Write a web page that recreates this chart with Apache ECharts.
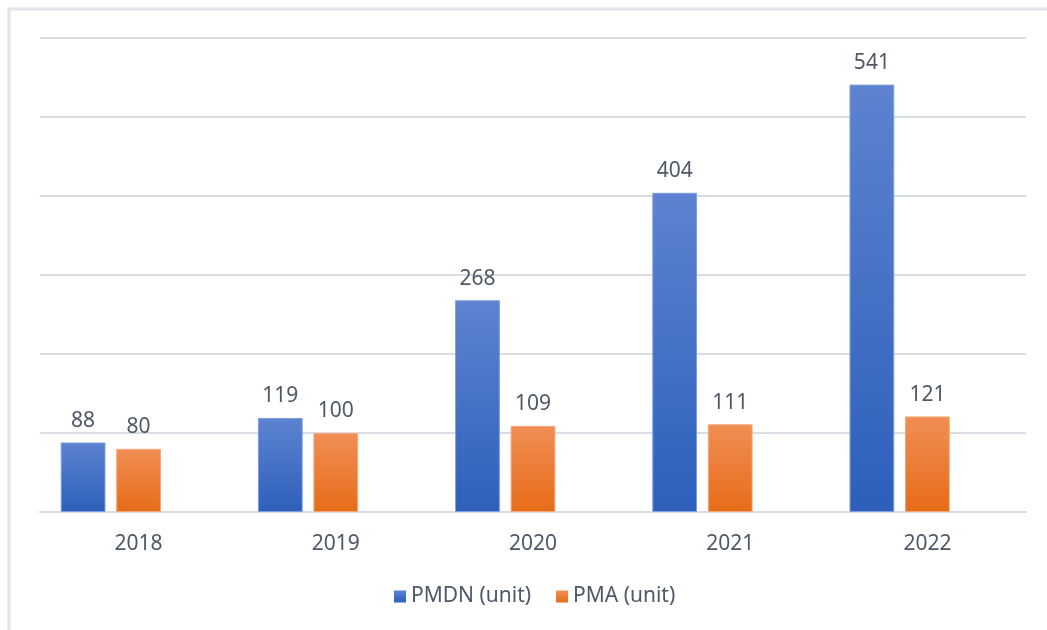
<!DOCTYPE html>
<html>
<head>
<meta charset="utf-8">
<script src="https://cdn.jsdelivr.net/npm/echarts@6/dist/echarts.min.js"></script>
<style>
  html, body { margin: 0; padding: 0; background: #fff; }
  #chart { width: 1047px; height: 630px; }
</style>
</head>
<body>
<div id="chart"></div>
<script>
const years = ["2018", "2019", "2020", "2021", "2022"];
const pmdn = [88, 119, 268, 404, 541];
const pma = [80, 100, 109, 111, 121];
// empty third slot the original chart reserves beside each pair
const blank = [null, null, null, null, null];

const chart = echarts.init(document.getElementById("chart"));

function grad(top, bottom) {
  return new echarts.graphic.LinearGradient(0, 0, 0, 1, [
    { offset: 0, color: top },
    { offset: 1, color: bottom },
  ]);
}

const textColor = "#4f5867";

const label = {
  show: true,
  position: "top",
  distance: 11,
  color: textColor,
  fontSize: 21,
  fontFamily: "Noto Sans",
};

const option = {
  animation: false,
  textStyle: { fontFamily: "Noto Sans" },
  grid: { left: 40, right: 21, top: 38, bottom: 118 },
  graphic: [
    {
      type: "polyline",
      shape: { points: [[9, 630], [9, 9], [1047, 9]] },
      style: { stroke: "#e1e4ea", lineWidth: 3, fill: null },
      silent: true,
    },
  ],
  legend: {
    data: ["PMDN (unit)", "PMA (unit)"],
    bottom: 18,
    left: 389,
    itemWidth: 12,
    itemHeight: 12,
    itemGap: 25,
    icon: "rect",
    itemStyle: { borderWidth: 0 },
    textStyle: { color: textColor, fontSize: 21, fontFamily: "Noto Sans" },
  },
  xAxis: {
    type: "category",
    data: years,
    axisLine: { lineStyle: { color: "#d9dde3", width: 2 } },
    axisTick: { show: false },
    axisLabel: { color: textColor, fontSize: 21, margin: 22 },
  },
  yAxis: {
    type: "value",
    min: 0,
    max: 600,
    interval: 100,
    axisLabel: { show: false },
    axisLine: { show: false },
    axisTick: { show: false },
    splitLine: { lineStyle: { color: "#d9dde3", width: 2 } },
  },
  series: [
    {
      name: "PMDN (unit)",
      type: "bar",
      data: pmdn,
      barGap: "24%",
      barCategoryGap: "21%",
      itemStyle: {
        color: grad("#5d83d0", "#2d5fbb"),
        borderColor: "#7d9ddc",
        borderWidth: 1,
      },
      label: label,
    },
    {
      name: "PMA (unit)",
      type: "bar",
      data: pma,
      itemStyle: {
        color: grad("#f18e55", "#e66c18"),
        borderColor: "#f4a77a",
        borderWidth: 1,
      },
      label: label,
    },
    {
      name: "",
      type: "bar",
      data: blank,
      silent: true,
    },
  ],
};

chart.setOption(option);
window.addEventListener("resize", function () {
  chart.resize();
});
</script>
</body>
</html>
